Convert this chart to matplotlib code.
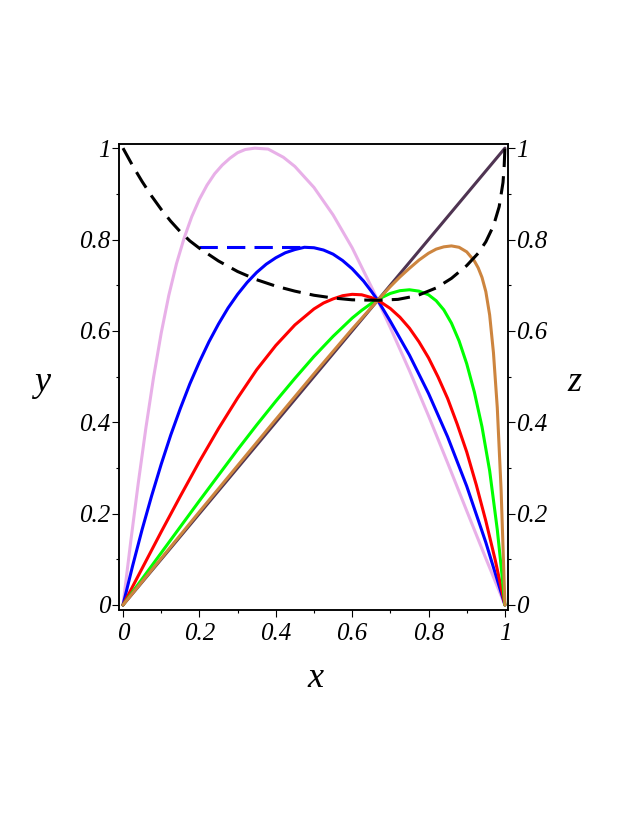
import matplotlib
matplotlib.use("Agg")
import matplotlib.pyplot as plt
from matplotlib.ticker import MultipleLocator

# Curvas (x, y)
pink_x = [0, 0.02, 0.04, 0.06, 0.08, 0.10, 0.12, 0.14, 0.16, 0.18, 0.20, 0.22, 0.24, 0.26, 0.28,
          0.30, 0.32, 0.345, 0.38, 0.40, 0.42, 0.45, 0.50, 0.55, 0.60, 0.65, 0.667, 0.70, 0.75,
          0.80, 0.85, 0.90, 0.95, 1.0]
pink_y = [0, 0.137, 0.267, 0.388, 0.498, 0.595, 0.678, 0.747, 0.803, 0.850, 0.888, 0.919, 0.944, 0.963, 0.978,
          0.990, 0.997, 1.0, 0.998, 0.989, 0.980, 0.960, 0.914, 0.854, 0.782, 0.697, 0.667, 0.607, 0.513,
          0.414, 0.311, 0.206, 0.102, 0.0]

blue_x = [0, 0.025, 0.05, 0.075, 0.10, 0.125, 0.15, 0.175, 0.20, 0.225, 0.25, 0.275, 0.30, 0.325, 0.35,
          0.375, 0.40, 0.425, 0.45, 0.475, 0.50, 0.525, 0.55, 0.575, 0.60, 0.63, 0.65, 0.667, 0.70,
          0.75, 0.80, 0.85, 0.90, 0.95, 1.0]
blue_y = [0, 0.085, 0.165, 0.239, 0.308, 0.372, 0.430, 0.484, 0.532, 0.576, 0.615, 0.650, 0.680, 0.706, 0.728,
          0.746, 0.760, 0.771, 0.778, 0.783, 0.782, 0.777, 0.768, 0.754, 0.736, 0.709, 0.687, 0.667, 0.621,
          0.547, 0.463, 0.368, 0.260, 0.137, 0.0]

red_x = [0, 0.05, 0.10, 0.15, 0.20, 0.25, 0.30, 0.35, 0.40, 0.45, 0.50, 0.525, 0.55, 0.575, 0.60,
         0.625, 0.65, 0.675, 0.70, 0.725, 0.75, 0.775, 0.80, 0.825, 0.85, 0.875, 0.90, 0.925, 0.95,
         0.975, 1.0]
red_y = [0, 0.080, 0.160, 0.238, 0.314, 0.386, 0.453, 0.515, 0.568, 0.613, 0.648, 0.661, 0.670, 0.677, 0.680,
         0.679, 0.673, 0.663, 0.649, 0.630, 0.606, 0.576, 0.541, 0.499, 0.452, 0.396, 0.335, 0.263, 0.184,
         0.097, 0.0]

green_x = [0, 0.05, 0.10, 0.15, 0.20, 0.25, 0.30, 0.35, 0.40, 0.45, 0.50, 0.55, 0.60, 0.625, 0.65,
           0.675, 0.70, 0.725, 0.75, 0.775, 0.80, 0.82, 0.84, 0.86, 0.88, 0.90, 0.92, 0.94, 0.96,
           0.98, 0.99, 1.0]
green_y = [0, 0.057, 0.114, 0.171, 0.228, 0.284, 0.340, 0.394, 0.446, 0.496, 0.544, 0.588, 0.628, 0.645, 0.660,
           0.672, 0.682, 0.688, 0.690, 0.687, 0.679, 0.666, 0.646, 0.617, 0.578, 0.528, 0.466, 0.390, 0.294,
           0.165, 0.085, 0.0]

orange_x = [0, 0.1, 0.2, 0.3, 0.4, 0.5, 0.6, 0.667, 0.70, 0.725, 0.75, 0.775, 0.80, 0.82, 0.84,
            0.86, 0.88, 0.90, 0.92, 0.93, 0.94, 0.95, 0.96, 0.97, 0.98, 0.99, 0.995, 1.0]
orange_y = [0, 0.102, 0.204, 0.305, 0.406, 0.506, 0.604, 0.667, 0.697, 0.718, 0.737, 0.755, 0.770, 0.779, 0.784,
            0.786, 0.783, 0.773, 0.753, 0.738, 0.717, 0.686, 0.635, 0.552, 0.432, 0.252, 0.127, 0.0]

purple_x = [0, 1]
purple_y = [0, 1]

# curva tracejada preta (escala z)
black_x = [0, 0.025, 0.05, 0.075, 0.10, 0.125, 0.15, 0.175, 0.20, 0.25, 0.30, 0.35, 0.40, 0.45, 0.50,
           0.55, 0.60, 0.667, 0.72, 0.77, 0.82, 0.86, 0.90, 0.93, 0.95, 0.97, 0.985, 0.995, 0.998, 1.0]
black_y = [1.0, 0.962, 0.927, 0.895, 0.866, 0.840, 0.817, 0.797, 0.781, 0.753, 0.730, 0.712, 0.698, 0.687, 0.678,
           0.672, 0.668, 0.667, 0.669, 0.677, 0.694, 0.715, 0.743, 0.770, 0.795, 0.830, 0.872, 0.925, 0.96, 1.0]

# segmento horizontal azul tracejado
bdash_x = [0.20, 0.475]
bdash_y = [0.783, 0.783]

ticks = [0, 0.2, 0.4, 0.6, 0.8, 1]
tick_labels = ["0", "0.2", "0.4", "0.6", "0.8", "1"]

font = {"family": "Liberation Serif", "style": "italic"}

fig = plt.figure(figsize=(6.38, 8.25), dpi=100)
ax = fig.add_axes([0.1865, 0.2606, 0.6097, 0.5648])

lw = 2.2
kw = dict(lw=lw, solid_joinstyle="round", solid_capstyle="round")
ax.plot(pink_x, pink_y, color="#E8B0E8", **kw)
ax.plot(blue_x, blue_y, color="#0000FF", **kw)
ax.plot(red_x, red_y, color="#FF0000", **kw)
ax.plot(green_x, green_y, color="#00FF00", **kw)
ax.plot(purple_x, purple_y, color="#4F3452", **kw)
ax.plot(orange_x, orange_y, color="#CD853F", **kw)
l1, = ax.plot(bdash_x, bdash_y, color="#0000FF", lw=lw)
l1.set_dashes([6, 3])
l2, = ax.plot(black_x, black_y, color="black", lw=lw)
l2.set_dashes([6, 3])

ax.set_xlim(-0.0105, 1.008)
ax.set_ylim(-0.011, 1.009)

for s in ax.spines.values():
    s.set_linewidth(1.1)

ax.set_xticks(ticks)
ax.set_xticklabels(tick_labels, fontdict=font, fontsize=18)
ax.set_yticks(ticks)
ax.set_yticklabels(tick_labels, fontdict=font, fontsize=18)
ax.xaxis.set_minor_locator(MultipleLocator(0.1))
ax.yaxis.set_minor_locator(MultipleLocator(0.1))
ax.tick_params(which="major", direction="out", length=5, width=0.8, pad=1)
ax.tick_params(which="minor", direction="out", length=2.5, width=0.8)
ax.tick_params(axis="x", which="major", pad=4)
ax.tick_params(top=False, right=False, which="both")

# eixo z a direita
ax2 = ax.twinx()
ax2.set_ylim(ax.get_ylim())
ax2.set_yticks(ticks)
ax2.set_yticklabels(tick_labels, fontdict=font, fontsize=18)
ax2.yaxis.set_minor_locator(MultipleLocator(0.1))
ax2.tick_params(which="major", direction="out", length=5, width=0.8, pad=1)
ax2.tick_params(which="minor", direction="out", length=2.5, width=0.8)
for s in ax2.spines.values():
    s.set_linewidth(1.1)

fig.text(0.0658, 0.5358, "y", fontdict=font, fontsize=26, ha="center", va="center")
fig.text(0.901, 0.5358, "z", fontdict=font, fontsize=26, ha="center", va="center")
fig.text(0.494, 0.178, "x", fontdict=font, fontsize=26, ha="center", va="center")

fig.savefig("out.png", dpi=100)
